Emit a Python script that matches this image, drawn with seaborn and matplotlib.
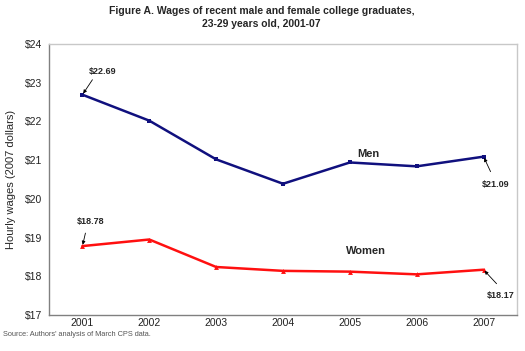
import numpy as np
import pandas as pd
import seaborn as sns
import matplotlib.pyplot as plt

years = ["2001", "2002", "2003", "2004", "2005", "2006", "2007"]
men = [22.69, 22.02, 21.02, 20.39, 20.94, 20.84, 21.09]
women = [18.78, 18.95, 18.24, 18.14, 18.12, 18.05, 18.17]
y_ticks = [17, 18, 19, 20, 21, 22, 23, 24]

sns.set_style("white")
plt.rcParams['font.family'] = ['Liberation Sans', 'DejaVu Sans']

df = pd.DataFrame({
    "year": years * 2,
    "wage": men + women,
    "group": ["Men"] * len(years) + ["Women"] * len(years),
})

fig = plt.figure(figsize=(5.25, 3.51), dpi=100)
ax = fig.add_axes([49 / 525, 1 - 315 / 351, 468 / 525, 271 / 351])

navy = "#10107e"
red = "#ff1010"
sns.lineplot(data=df, x="year", y="wage", hue="group", style="group",
             palette={"Men": navy, "Women": red},
             markers={"Men": "s", "Women": "^"}, dashes=False,
             markersize=3.5, markeredgewidth=0, linewidth=1.8,
             legend=False, ax=ax)

ax.set_xlim(-0.5, len(years) - 0.5)
ax.set_ylim(17, 24)
ax.set_yticks(y_ticks)
ax.set_yticklabels(["$%d" % v for v in y_ticks], fontsize=7.5, color="#222222")

# categories centred, tick marks on the boundaries
ax.set_xticks(np.arange(-0.5, len(years), 1.0))
ax.set_xticklabels([])
ax.set_xticks(np.arange(len(years)), minor=True)
ax.set_xticklabels(years, minor=True, fontsize=7.5, color="#222222")
ax.tick_params(axis="x", which="minor", length=0, pad=2.5)
ax.tick_params(axis="x", which="major", length=3, color="#808080", width=0.8)
ax.tick_params(axis="y", length=3, color="#808080", width=0.8, pad=2)

for s in ["left", "bottom"]:
    ax.spines[s].set_color("#808080")
    ax.spines[s].set_linewidth(1.0)
for s in ["top", "right"]:
    ax.spines[s].set_color("#c8c8c8")
    ax.spines[s].set_linewidth(1.0)

ax.set_xlabel("")
ax.set_ylabel("Hourly wages (2007 dollars)", fontsize=8, labelpad=6)

fig.text(0.498, 0.983, "Figure A. Wages of recent male and female college graduates,\n23-29 years old, 2001-07",
         ha="center", va="top", fontsize=7.5, fontweight="bold", linespacing=1.35)
fig.text(0.006, 0.046, "Source: Authors' analysis of March CPS data.", fontsize=5.3,
         color="#555555", va="center")

arrow = dict(arrowstyle="-|>", color="black", lw=0.6, mutation_scale=5, shrinkA=0, shrinkB=1)
labels = [
    (0, men[0], (10, 15), (20, 23)),
    (0, women[0], (3, 13), (8, 25)),
    (6, men[-1], (7, -15), (12, -28)),
    (6, women[-1], (13, -14), (17, -26)),
]
for xi, yv, tail, txt in labels:
    ax.annotate("", xy=(xi, yv), xytext=tail, textcoords="offset pixels", arrowprops=arrow)
    ax.annotate("$%.2f" % yv, xy=(xi, yv), xytext=txt, textcoords="offset pixels",
                ha="center", va="center", fontsize=6.5, fontweight="bold")

ax.text(4.27, 21.16, "Men", fontsize=8, ha="center", va="center", fontweight="semibold")
ax.text(4.24, 18.65, "Women", fontsize=8, ha="center", va="center", fontweight="semibold")

fig.savefig("out.png", dpi=100)
